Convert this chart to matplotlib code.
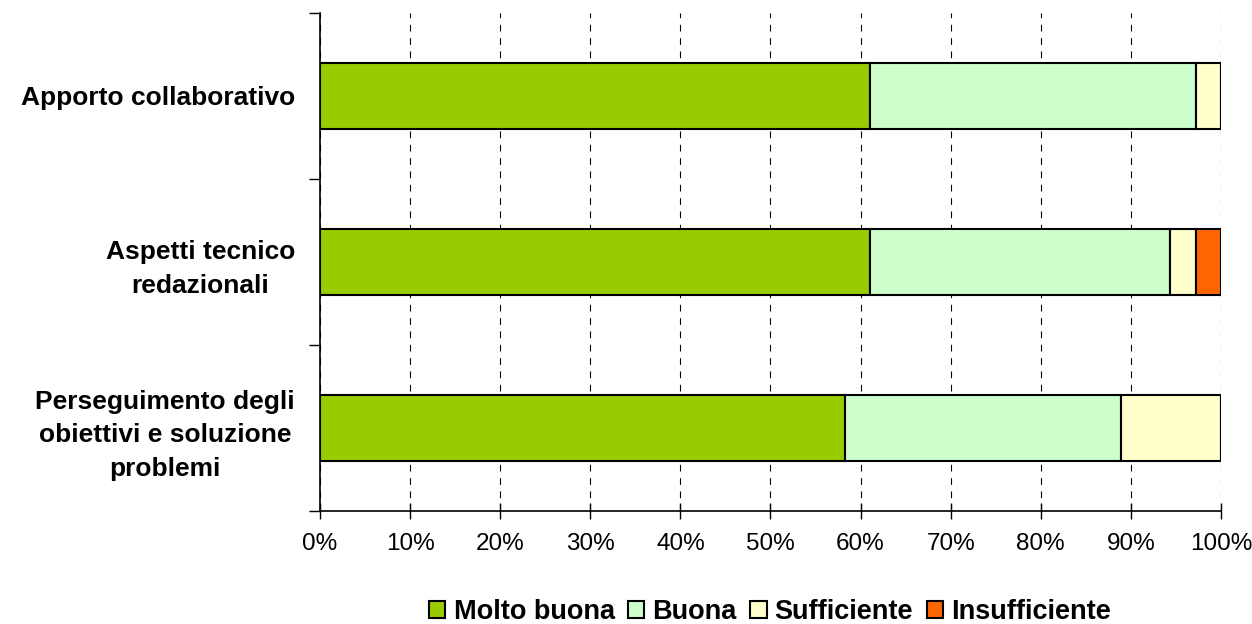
import matplotlib.pyplot as plt
import numpy as np

plt.rcParams['font.family'] = ['Liberation Sans', 'DejaVu Sans']

# Categories (top to bottom)
categories = ['Apporto collaborativo',
              'Aspetti tecnico\nredazionali',
              'Perseguimento degli\nobiettivi e soluzione\nproblemi']

# Percent shares per category
molto_buona = [61.1, 61.1, 58.3]
buona = [36.1, 33.3, 30.6]
sufficiente = [2.8, 2.8, 11.1]
insufficiente = [0.0, 2.8, 0.0]

series = [('Molto buona', molto_buona, '#99cc00'),
          ('Buona', buona, '#ccffcc'),
          ('Sufficiente', sufficiente, '#ffffcc'),
          ('Insufficiente', insufficiente, '#ff6600')]

xticks = np.arange(0, 101, 10)
xtick_labels = [f'{v}%' for v in xticks]

fig = plt.figure(figsize=(12.52, 6.24), dpi=100)
ax = fig.add_axes([0.2556, 0.1811, 0.7196, 0.7981])

y = np.arange(len(categories))
left = np.zeros(len(categories))
for name, vals, col in series:
    vals = np.array(vals)
    ax.barh(y, vals, left=left, height=0.4, color=col, edgecolor='black',
            linewidth=1.5, label=name, zorder=3)
    left += vals

ax.set_xlim(0, 100)
ax.set_ylim(2.5, -0.5)

ax.set_xticks(xticks)
ax.set_xticklabels(xtick_labels, fontsize=17.5)
ax.tick_params(axis='x', direction='inout', length=12, width=1, pad=10)

ax.set_yticks(y)
ax.set_yticklabels(categories, fontsize=19, fontweight='bold', linespacing=1.5,
                   ha='right', multialignment='center')
ax.tick_params(axis='y', which='major', length=0, pad=18)
ax.set_yticks([-0.5, 0.5, 1.5, 2.5], minor=True)
ax.tick_params(axis='y', which='minor', length=8, width=1)

ax.grid(True, axis='x', linestyle=(0, (6, 6)), color='black', linewidth=0.8, zorder=0)

for s in ['top', 'right']:
    ax.spines[s].set_visible(False)
ax.spines['left'].set_linewidth(1.2)
ax.spines['bottom'].set_linewidth(1.2)

fig.legend(loc='center', bbox_to_anchor=(0.615, 0.019), ncol=4, frameon=False,
           prop={'size': 19.5, 'weight': 'bold'}, handlelength=0.6, handleheight=0.6,
           handletextpad=0.3, columnspacing=0.5, borderpad=0)

plt.savefig('out.png', dpi=100)
